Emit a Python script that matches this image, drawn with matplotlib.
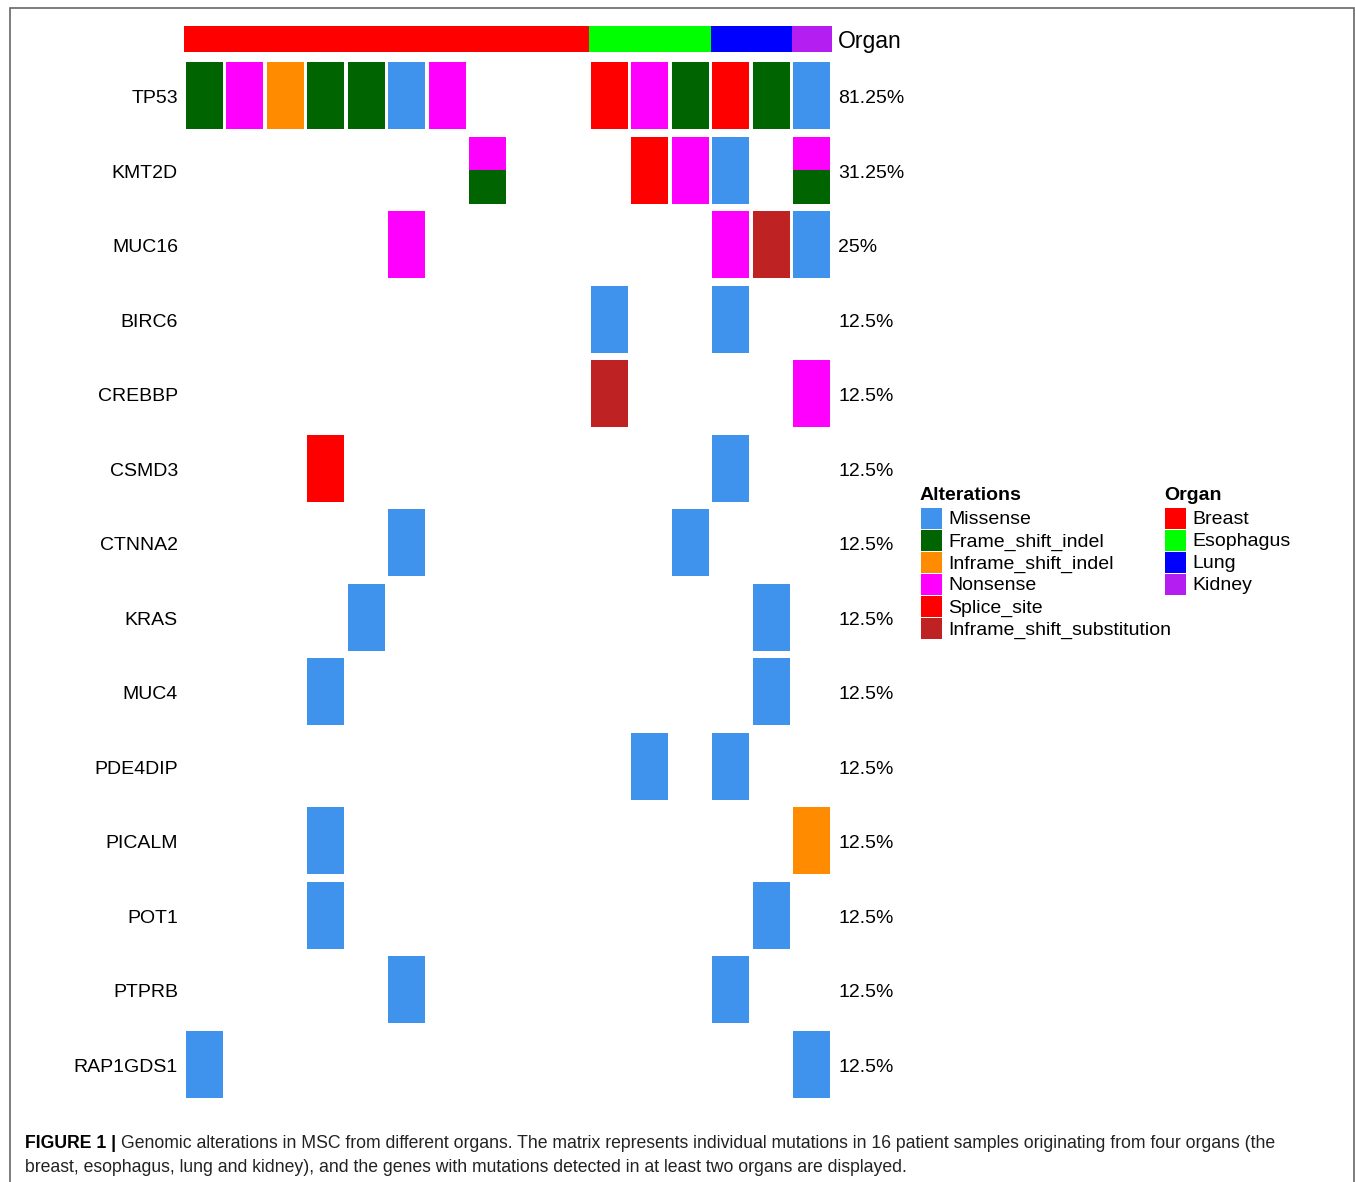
import matplotlib.pyplot as plt
from matplotlib.patches import Rectangle

W, H = 1355, 1182

genes = ['TP53', 'KMT2D', 'MUC16', 'BIRC6', 'CREBBP', 'CSMD3', 'CTNNA2',
         'KRAS', 'MUC4', 'PDE4DIP', 'PICALM', 'POT1', 'PTPRB', 'RAP1GDS1']

organ_names = ['Breast', 'Esophagus', 'Lung', 'Kidney']
organ_counts = [10, 3, 2, 1]
organ_colors = ['#FF0000', '#00FF00', '#0000FF', '#B41EF0']

alt_names = ['Missense', 'Frame_shift_indel', 'Inframe_shift_indel',
             'Nonsense', 'Splice_site', 'Inframe_shift_substitution']
alt_codes = ['M', 'F', 'I', 'N', 'S', 'X']
alt_colors = ['#3F93EC', '#006400', '#FF8C00', '#FF00FF', '#FF0000', '#BF2222']

# one string per sample (16), '' = no alteration, 'N;F' = two alterations
matrix = [
    ['F', 'N', 'I', 'F', 'F', 'M', 'N', '', '', '', 'S', 'N', 'F', 'S', 'F', 'M'],
    ['', '', '', '', '', '', '', 'N;F', '', '', '', 'S', 'N', 'M', '', 'N;F'],
    ['', '', '', '', '', 'N', '', '', '', '', '', '', '', 'N', 'X', 'M'],
    ['', '', '', '', '', '', '', '', '', '', 'M', '', '', 'M', '', ''],
    ['', '', '', '', '', '', '', '', '', '', 'X', '', '', '', '', 'N'],
    ['', '', '', 'S', '', '', '', '', '', '', '', '', '', 'M', '', ''],
    ['', '', '', '', '', 'M', '', '', '', '', '', '', 'M', '', '', ''],
    ['', '', '', '', 'M', '', '', '', '', '', '', '', '', '', 'M', ''],
    ['', '', '', 'M', '', '', '', '', '', '', '', '', '', '', 'M', ''],
    ['', '', '', '', '', '', '', '', '', '', '', 'M', '', 'M', '', ''],
    ['', '', '', 'M', '', '', '', '', '', '', '', '', '', '', '', 'I'],
    ['', '', '', 'M', '', '', '', '', '', '', '', '', '', '', 'M', ''],
    ['', '', '', '', '', 'M', '', '', '', '', '', '', '', 'M', '', ''],
    ['M', '', '', '', '', '', '', '', '', '', '', '', '', '', '', 'M'],
]

color_of = dict(zip(alt_codes, alt_colors))
n_samples = len(matrix[0])

plt.rcParams['font.family'] = ['Liberation Sans', 'DejaVu Sans']
fig = plt.figure(figsize=(W / 100, H / 100), dpi=100)


def fx(x):
    return x / W


def fy(y):
    return 1 - y / H


# main matrix
ax = fig.add_axes([fx(184), fy(1101.5), fx(832) - fx(184), fy(58.5) - fy(1101.5)])
ax.set_xlim(0, n_samples)
ax.set_ylim(len(genes), 0)
ax.axis('off')

px, py = 0.045, 0.05
for r, row in enumerate(matrix):
    for c, cell in enumerate(row):
        if not cell:
            continue
        parts = cell.split(';')
        h = (1 - 2 * py) / len(parts)
        for k, code in enumerate(parts):
            ax.add_patch(Rectangle((c + px, r + py + k * h), 1 - 2 * px, h,
                                   facecolor=color_of[code], edgecolor='none'))
    n_mut = sum(1 for v in row if v)
    ax.text(-0.15, r + 0.54, genes[r], ha='right', va='center', fontsize=14)
    ax.text(n_samples + 0.16, r + 0.54, '{:g}%'.format(100 * n_mut / n_samples),
            ha='left', va='center', fontsize=14)

# organ annotation bar
oax = fig.add_axes([fx(184), fy(52), fx(832) - fx(184), fy(26) - fy(52)])
oax.set_xlim(0, n_samples)
oax.set_ylim(0, 1)
oax.axis('off')
start = 0
for name, n, col in zip(organ_names, organ_counts, organ_colors):
    oax.add_patch(Rectangle((start, 0), n, 1, facecolor=col, edgecolor='none'))
    start += n
oax.text(n_samples + 0.15, 0.4, 'Organ', ha='left', va='center', fontsize=16.5)


def legend_block(x, y, title, names, colors):
    fig.text(fx(x), fy(y + 1), title, ha='left', va='center', fontsize=14,
             fontweight='bold')
    for i, (name, col) in enumerate(zip(names, colors)):
        yc = y + 24.5 + i * 22
        fig.add_artist(Rectangle((fx(x + 1), fy(yc + 10.25)), 20.5 / W, 20.5 / H,
                                 transform=fig.transFigure, facecolor=col,
                                 edgecolor='none'))
        fig.text(fx(x + 28), fy(yc + 1.5), name, ha='left', va='center', fontsize=14)


legend_block(920, 494, 'Alterations', alt_names, alt_colors)
legend_block(1164, 494, 'Organ', organ_names, organ_colors)

# frame
fig.add_artist(Rectangle((fx(10), fy(H + 20)), (1354 - 10) / W, (H + 12) / H,
                         transform=fig.transFigure, facecolor='none',
                         edgecolor='#666666', lw=1.2))

# caption
cap_font = ['Liberation Sans Narrow', 'Liberation Sans', 'DejaVu Sans']
fig.text(fx(25), fy(1143), 'FIGURE 1 |', ha='left', va='center', fontsize=12.7,
         fontweight='bold', family=cap_font)
fig.text(fx(121), fy(1143),
         'Genomic alterations in MSC from different organs. The matrix represents '
         'individual mutations in 16 patient samples originating from four organs (the',
         ha='left', va='center', fontsize=12.7, family=cap_font, color='#222222')
fig.text(fx(25), fy(1168),
         'breast, esophagus, lung and kidney), and the genes with mutations detected '
         'in at least two organs are displayed.',
         ha='left', va='center', fontsize=12.7, family=cap_font, color='#222222')

fig.savefig('out.png', dpi=100)
